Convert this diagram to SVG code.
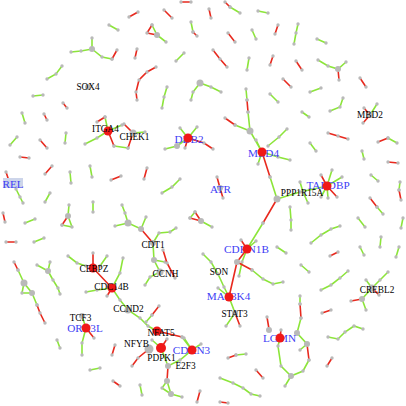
<svg xmlns="http://www.w3.org/2000/svg" width="406" height="406" viewBox="0 0 406 406">
<style>
.g{fill:none;stroke:#8ce53a;stroke-width:1.6;marker-start:url(#d);marker-mid:url(#d);marker-end:url(#d)}
.r{fill:none;stroke:#e8291e;stroke-width:1.6;marker-start:url(#d);marker-mid:url(#d);marker-end:url(#d)}
.h{fill:#b9b9b9}
.rn{fill:#f01818}
.k{font-family:"Liberation Serif","Times New Roman",serif;font-size:9.3px;fill:#000;text-anchor:middle}
.b{font-family:"Liberation Serif","Times New Roman",serif;font-size:11.2px;fill:#3d3df5;text-anchor:middle}
</style>
<defs>
<marker id="d" markerUnits="userSpaceOnUse" viewBox="0 0 4 4" refX="2" refY="2" markerWidth="4" markerHeight="4" overflow="visible"><circle cx="2" cy="2" r="1.7" fill="#b9b9b9"/></marker>
</defs>
<rect width="406" height="406" fill="#fff"/>
<g id="connectors">
<path class="g" d="M191,22 L193,32 M109,25 L118,30 M152,25 L157,35 L166,42 M71,52 L81,51 L92,49 L102,57 L112,59 M92,38 L92,49 M176,61 L184,53 M167,87 L164,97 L162,108 M191,100 L193,92 L200,83 L211,87 L221,92 M62,66 L56,74 L47,79 M230,7 L240,13 M258,11 L268,13 M298,24 L296,33 L294,44 M252,30 L256,39 M317,39 L326,43 M249,58 L247,70 M318,60 L328,66 L338,69 L346,62 M310,92 L321,88 M270,94 L278,102 M343,98 L340,107 L330,111 M377,104 L370,115 M302,112 L309,117 M310,143 L316,151 M388,138 L397,143 M362,151 L364,159 M371,175 L378,181 M400,182 L399,190 M377,207 L383,214 M358,218 L365,227 M290,207 L291,220 L291,230 M246,89 L247,100 M248,112 L250,131 L262,152 M235,125 L250,131 M287,129 L279,137 L268,146 M256,140 L262,152 M262,152 L278,157 L290,160 M262,152 L258,164 M270,177 L277,199 L300,192 L327,186 M300,182 L303,192 L308,203 M332,170 L327,186 M342,177 L327,186 M327,186 L328,198 M327,186 L321,197 M263,223 L247,249 M256,241 L247,249 M252,270 L263,279 L273,284 L283,282 M247,249 L242,262 L239,276 M203,254 L211,262 L218,274 L224,287 L229,297 M277,247 L286,253 M218,288 L229,297 L235,313 L226,326 M311,243 L321,235 L331,229 L340,226 M321,290 L331,285 L340,278 L348,271 M301,265 L309,272 M381,237 L380,247 M360,247 L364,255 M403,218 L401,228 M399,247 L396,257 M366,280 L372,288 M388,272 L380,280 L372,288 L362,299 L366,310 M280,338 L278,346 L281,366 L291,376 L285,386 M300,296 L300,304 M301,318 L297,333 L307,344 L300,350 M309,360 L303,371 L291,376 M328,337 L338,339 L345,332 L354,326 L363,329 M236,355 L246,354 M220,378 L233,383 L243,388 L251,394 L260,396 M195,212 L190,218 M201,221 L212,227 M165,149 L177,146 L188,138 M180,128 L188,138 M197,127 L188,138 M105,117 L108,131 L122,125 M133,133 L145,132 M85,144 L97,138 L108,131 M114,146 L128,148 M33,96 L43,95 M22,113 L25,123 M66,133 L65,143 M10,145 L17,137 M90,166 L92,177 M70,172 L71,183 M162,193 L172,187 L180,179 M16,189 L20,197 L23,203 M50,193 L45,202 M93,202 L93,212 M69,205 L68,216 L72,227 L62,225 M25,223 L35,219 M34,242 L44,238 M18,270 L24,283 L22,293 L32,293 L24,283 M32,293 L37,305 M37,265 L48,271 L50,262 M48,271 L53,280 L58,288 L60,294 M122,205 L125,213 L128,223 L141,229 L146,217 M115,226 L128,223 M153,243 L159,233 L170,232 L176,228 M153,243 L154,260 L160,272 L150,277 L145,285 M154,260 L165,262 M68,256 L77,263 L86,266 M107,256 L100,266 M123,258 L120,273 L112,288 M86,292 L97,290 L112,288 L120,300 L128,310 L140,318 L148,326 L157,331 M152,315 L146,322 M182,337 L192,350 M152,340 L161,348 L168,366 L180,360 L192,350 M167,381 L162,388 L171,394 L167,381 M171,394 L182,397 M184,338 L192,350 L201,344 M82,316 L86,328 L82,343 L82,355 M57,340 L60,348 M100,368 L90,370 M140,385 L142,395"/>
<path class="r" d="M181,2 L191,2 M129,17 L138,12 M164,10 L172,18 M193,32 L197,36 M152,25 L147,33 L157,35 M112,59 L117,50 M135,58 L137,49 M156,67 L147,72 L139,80 L136,92 L137,100 M225,2 L230,7 M209,9 L211,18 M278,25 L275,34 M228,33 L235,42 M213,50 L220,59 L227,67 M273,56 L270,65 M296,61 L302,70 M338,69 L339,80 M283,79 L291,87 M360,78 L366,87 M364,108 L370,115 L363,123 M328,133 L338,136 L348,139 M378,142 L388,138 M388,162 L398,163 M399,190 L401,200 M370,198 L377,207 M247,100 L248,112 M225,118 L235,125 M262,152 L270,177 M321,175 L327,186 L337,197 M277,199 L263,223 M241,240 L247,249 L237,262 L252,270 M237,262 L229,297 M235,313 L240,326 M330,256 L338,252 M372,288 L379,295 M362,299 L351,301 M322,313 L331,310 M267,317 L269,329 M281,330 L280,338 M300,304 L301,318 M307,344 L309,360 M228,358 L236,355 M332,358 L327,366 M256,370 L263,378 M220,402 L228,403 M217,177 L220,188 L223,198 M195,212 L201,221 L190,218 M188,138 L185,148 M188,138 L204,143 L213,149 M97,122 L105,117 M124,124 L133,133 L128,148 M108,131 L114,146 M63,103 L67,108 M44,114 L47,120 M40,140 L47,148 M20,157 L29,158 M52,166 L45,174 M111,180 L121,176 M147,168 L144,179 M6,172 L9,181 M62,225 L68,216 M3,213 L5,222 M6,242 L16,242 M14,262 L18,270 M37,305 L40,313 L45,323 M141,229 L153,243 M163,250 L167,263 L175,278 M93,253 L93,268 L112,288 L107,296 M159,306 L152,315 M157,331 L182,337 M167,339 L161,348 M168,366 L167,381 M149,349 L138,358 L132,366 M86,328 L94,338 M115,345 L112,355 M113,381 L120,386 M200,391 L197,402"/>
</g>
<g id="hubs">
<circle class="h" cx="157" cy="35" r="3"/><circle class="h" cx="92" cy="49" r="3"/><circle class="h" cx="200" cy="83" r="3.5"/><circle class="h" cx="338" cy="69" r="3"/><circle class="h" cx="250" cy="131" r="3.5"/><circle class="h" cx="177" cy="146" r="3"/><circle class="h" cx="201" cy="221" r="3"/><circle class="h" cx="68" cy="216" r="3"/><circle class="h" cx="24" cy="283" r="3.5"/><circle class="h" cx="32" cy="293" r="3"/><circle class="h" cx="48" cy="271" r="3"/><circle class="h" cx="128" cy="223" r="3.5"/><circle class="h" cx="141" cy="229" r="3"/><circle class="h" cx="154" cy="260" r="3"/><circle class="h" cx="167" cy="381" r="3"/><circle class="h" cx="171" cy="394" r="3"/><circle class="h" cx="269" cy="330" r="3"/><circle class="h" cx="297" cy="333" r="3"/><circle class="h" cx="307" cy="344" r="3"/><circle class="h" cx="291" cy="376" r="3"/><circle class="h" cx="362" cy="299" r="3"/>
</g>
<g id="SOX4"><circle class="h" cx="88" cy="87" r="3"/><text class="k" x="88" y="90">SOX4</text></g>
<g id="CHEK1"><circle class="h" cx="133" cy="133" r="3.5"/><text class="k" x="134.5" y="140">CHEK1</text></g>
<g id="ITGA4"><circle class="rn" cx="108" cy="131" r="4.5"/><text class="k" x="105.5" y="132">ITGA4</text></g>
<g id="MBD2"><circle class="h" cx="370" cy="115" r="3"/><text class="k" x="370" y="118">MBD2</text></g>
<g id="PPP1R15A"><circle class="h" cx="277" cy="199" r="3.5"/><text class="k" x="302" y="196">PPP1R15A</text></g>
<g id="SON"><circle class="h" cx="237" cy="262" r="3"/><text class="k" x="219" y="275">SON</text></g>
<g id="STAT3"><circle class="h" cx="235" cy="313" r="3"/><text class="k" x="234.5" y="317">STAT3</text></g>
<g id="CREBL2"><circle class="h" cx="372" cy="288" r="3.5"/><text class="k" x="377" y="293">CREBL2</text></g>
<g id="CDT1"><circle class="h" cx="153" cy="243" r="3"/><text class="k" x="153" y="248">CDT1</text></g>
<g id="CCNH"><circle class="h" cx="160" cy="272" r="3.5"/><text class="k" x="165.5" y="277">CCNH</text></g>
<g id="CCND2"><circle class="h" cx="128" cy="310" r="3.5"/><text class="k" x="128.5" y="312">CCND2</text></g>
<g id="NFYB"><circle class="h" cx="149" cy="349" r="4.5"/><text class="k" x="136.5" y="347">NFYB</text></g>
<g id="E2F3"><circle class="h" cx="168" cy="366" r="3"/><text class="k" x="185.5" y="369">E2F3</text></g>
<g id="TCF3"><circle class="h" cx="82" cy="316" r="3"/><text class="k" x="80.5" y="321">TCF3</text></g>
<g id="CEBPZ"><circle class="rn" cx="93" cy="268" r="4.5"/><text class="k" x="94" y="272">CEBPZ</text></g>
<g id="CDC14B"><circle class="rn" cx="112" cy="288" r="4.5"/><text class="k" x="111.5" y="290">CDC14B</text></g>
<g id="NFAT5"><circle class="rn" cx="157" cy="331" r="4.5"/><text class="k" x="161" y="336">NFAT5</text></g>
<g id="PDPK1"><circle class="rn" cx="161" cy="348" r="5"/><text class="k" x="161.5" y="361">PDPK1</text></g>
<g id="REL"><rect x="3" y="178" width="20" height="10" fill="#cdd5ea"/><text class="b" x="13" y="188">REL</text></g>
<g id="ATR"><circle class="h" cx="220" cy="188" r="3"/><text class="b" x="220.5" y="193">ATR</text></g>
<g id="DDB2"><text class="b" x="189" y="143">DDB2</text><circle class="rn" cx="188" cy="138" r="4.5"/></g>
<g id="MBD4"><text class="b" x="263.5" y="157">MBD4</text><circle class="rn" cx="262" cy="152" r="4.5"/></g>
<g id="TARDBP"><text class="b" x="328" y="189">TARDBP</text><circle class="rn" cx="327" cy="186" r="4.5"/></g>
<g id="CDKN1B"><text class="b" x="246.5" y="253">CDKN1B</text><circle class="rn" cx="247" cy="249" r="4.5"/></g>
<g id="MAP3K4"><text class="b" x="228.5" y="300">MAP3K4</text><circle class="rn" cx="229" cy="297" r="4.5"/></g>
<g id="LGMN"><text class="b" x="279.5" y="342">LGMN</text><circle class="rn" cx="280" cy="338" r="4.5"/></g>
<g id="ORC3L"><text class="b" x="85" y="332">ORC3L</text><circle class="rn" cx="86" cy="328" r="4.5"/></g>
<g id="CDKN3"><text class="b" x="191.5" y="354">CDKN3</text><circle class="rn" cx="192" cy="350" r="4.5"/></g>
</svg>
